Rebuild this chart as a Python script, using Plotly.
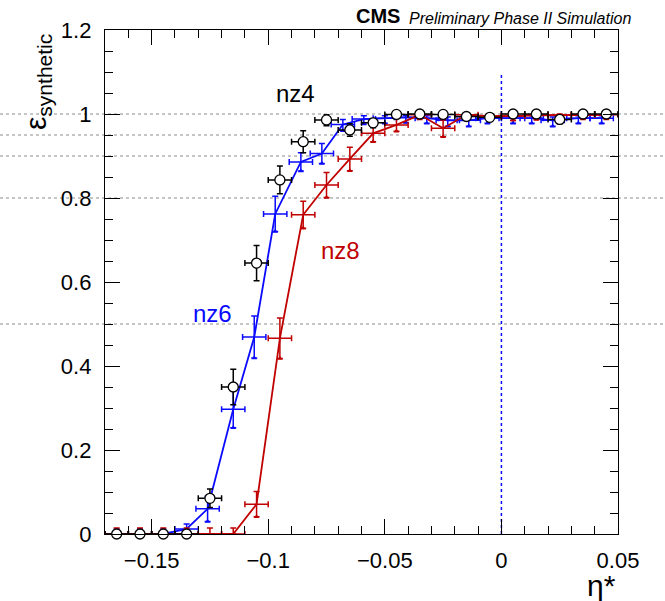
import plotly.graph_objects as go

# ---------------- data ----------------
eta_bins = [-0.165, -0.155, -0.145, -0.135, -0.125, -0.115, -0.105, -0.095, -0.085, -0.075, -0.065,
            -0.055, -0.045, -0.035, -0.025, -0.015, -0.005, 0.005, 0.015, 0.025, 0.035, 0.045]
bin_half_width = 0.005

nz4_eff = [0, 0, 0, 0, 0.085, 0.35, 0.645, 0.843, 0.934, 0.986, 0.962,
           0.979, 0.999, 1.0, 0.999, 0.994, 0.992, 1.0, 1.0, 0.987, 1.0, 1.0]
nz4_err_up = [0, 0, 0, 0, 0.022, 0.042, 0.042, 0.033, 0.026, 0.012, 0.015,
              0.01, 0.001, 0, 0.001, 0.004, 0.005, 0, 0, 0.006, 0, 0]
nz4_err_dn = [0, 0, 0, 0, 0.022, 0.042, 0.042, 0.033, 0.026, 0.014, 0.015,
              0.012, 0.005, 0.004, 0.005, 0.008, 0.01, 0.004, 0.004, 0.01, 0.004, 0.004]

nz6_eta = [-0.165, -0.155, -0.145, -0.135, -0.126, -0.115, -0.106, -0.097, -0.086, -0.077, -0.068,
           -0.059, -0.050, -0.041, -0.032, -0.023, -0.014, -0.006, 0.005, 0.013, 0.022, 0.033, 0.043]
nz6_eff = [0, 0, 0, 0.012, 0.06, 0.297, 0.469, 0.762, 0.886, 0.906, 0.975,
           0.988, 0.99, 0.992, 0.99, 0.985, 0.985, 0.99, 0.99, 0.99, 0.985, 0.99, 0.99]
nz6_err_up = [0.012, 0.012, 0.012, 0.012, 0.03, 0.044, 0.05, 0.042, 0.022, 0.024, 0.012,
              0.008, 0.006, 0.005, 0.006, 0.008, 0.008, 0.006, 0.006, 0.006, 0.008, 0.006, 0.006]
nz6_err_dn = [0, 0, 0, 0.008, 0.03, 0.044, 0.05, 0.042, 0.022, 0.024, 0.015,
              0.012, 0.012, 0.012, 0.012, 0.014, 0.014, 0.012, 0.012, 0.012, 0.014, 0.012, 0.012]

nz8_eff = [0, 0, 0, 0, 0, 0, 0.071, 0.466, 0.76, 0.831, 0.893,
           0.954, 0.974, 0.998, 0.966, 0.998, 0.995, 0.995, 0.997, 0.997, 0.998, 0.998]
nz8_err_up = [0.014, 0.014, 0.014, 0.014, 0.014, 0.014, 0.03, 0.048, 0.032, 0.03, 0.028,
              0.02, 0.015, 0.002, 0.02, 0.002, 0.004, 0.004, 0.003, 0.003, 0.002, 0.002]
nz8_err_dn = [0, 0, 0, 0, 0, 0, 0.03, 0.048, 0.032, 0.03, 0.028,
              0.02, 0.015, 0.01, 0.02, 0.01, 0.01, 0.01, 0.01, 0.01, 0.01, 0.01]

ref_lines = [1.0, 0.95, 0.9, 0.8, 0.5]
x_range = [-0.17, 0.05]
y_range = [0, 1.2]
x_tickvals = [-0.15, -0.1, -0.05, 0, 0.05]
x_ticktext = ["\u22120.15", "\u22120.1", "\u22120.05", "0", "0.05"]
y_tickvals = [0, 0.2, 0.4, 0.6, 0.8, 1.0, 1.2]
y_ticktext = ["0", "0.2", "0.4", "0.6", "0.8", "1", "1.2"]
eta_line = 0.0
eta_line_top = 1.1

BLUE = "#0a0aff"
RED = "#c00000"
FONT = "Liberation Sans"

W, H = 665, 601
ML, MR, MT, MB = 105, 47, 30, 67
PW, PH = W - ML - MR, H - MT - MB


def px_x(p):
    return (p - ML) / PW


def px_y(p):
    return (H - MB - p) / PH


def lower_ends(xs, ys, dn):
    # positions of the lower error-bar ends (drawn by ROOT as small triangles)
    pts = [(x, y - d) for x, y, d in zip(xs, ys, dn) if d > 0]
    return [p[0] for p in pts], [p[1] for p in pts]


fig = go.Figure()

# nz6 (blue)
fig.add_trace(go.Scatter(
    x=nz6_eta, y=nz6_eff, mode="lines", name="nz6",
    line=dict(color=BLUE, width=1.8),
    error_y=dict(type="data", symmetric=False, array=nz6_err_up, arrayminus=nz6_err_dn,
                 color=BLUE, thickness=1.5, width=3),
    error_x=dict(type="constant", value=bin_half_width, color=BLUE, thickness=1.5, width=3),
))
bx, by = lower_ends(nz6_eta, nz6_eff, nz6_err_dn)
fig.add_trace(go.Scatter(x=bx, y=by, mode="markers", hoverinfo="skip",
                         marker=dict(symbol="triangle-up", size=5, color=BLUE)))

# nz8 (red)
fig.add_trace(go.Scatter(
    x=eta_bins, y=nz8_eff, mode="lines", name="nz8",
    line=dict(color=RED, width=1.8),
    error_y=dict(type="data", symmetric=False, array=nz8_err_up, arrayminus=nz8_err_dn,
                 color=RED, thickness=1.5, width=3),
    error_x=dict(type="constant", value=bin_half_width, color=RED, thickness=1.5, width=3),
))
rx, ry = lower_ends(eta_bins, nz8_eff, nz8_err_dn)
fig.add_trace(go.Scatter(x=rx, y=ry, mode="markers", hoverinfo="skip",
                         marker=dict(symbol="triangle-up", size=5, color=RED)))

# nz4 (black open circles)
fig.add_trace(go.Scatter(
    x=eta_bins, y=nz4_eff, mode="markers", name="nz4",
    marker=dict(symbol="circle", size=10, color="white", line=dict(color="black", width=1.3)),
    error_y=dict(type="data", symmetric=False, array=nz4_err_up, arrayminus=nz4_err_dn,
                 color="black", thickness=1.5, width=3),
    error_x=dict(type="constant", value=bin_half_width, color="black", thickness=1.5, width=3),
    cliponaxis=False,
))

shapes = []
for v in ref_lines:
    shapes.append(dict(type="line", xref="paper", yref="paper",
                       x0=px_x(0), x1=px_x(W), y0=v / y_range[1], y1=v / y_range[1],
                       line=dict(color="#8c8c8c", width=1, dash="3px,3px"), layer="below"))
shapes.append(dict(type="line", xref="x", yref="y", x0=eta_line, x1=eta_line, y0=0, y1=eta_line_top,
                   line=dict(color=BLUE, width=1.5, dash="3px,3px"), layer="below"))

annotations = [
    dict(text="nz4", x=-0.0882, y=1.048, xref="x", yref="y", showarrow=False,
         font=dict(family=FONT, size=24, color="black")),
    dict(text="nz6", x=-0.1238, y=0.526, xref="x", yref="y", showarrow=False,
         font=dict(family=FONT, size=24, color=BLUE)),
    dict(text="nz8", x=-0.069, y=0.676, xref="x", yref="y", showarrow=False,
         font=dict(family=FONT, size=24, color=RED)),
    dict(text="<b>CMS</b>", x=px_x(402), y=px_y(16), xref="paper", yref="paper",
         xanchor="right", yanchor="middle", showarrow=False,
         font=dict(family=FONT, size=20, color="black")),
    dict(text="<i>Preliminary Phase II Simulation</i>", x=px_x(407), y=px_y(18), xref="paper", yref="paper",
         xanchor="left", yanchor="middle", showarrow=False,
         font=dict(family=FONT, size=16, color="black")),
    dict(text="\u03b5<sub>synthetic</sub>", x=px_x(38), y=px_y(82), xref="paper", yref="paper",
         xanchor="center", yanchor="middle", textangle=-90, showarrow=False,
         font=dict(family=FONT, size=30, color="black")),
    dict(text="\u03b7*", x=1.0, y=px_y(585), xref="paper", yref="paper",
         xanchor="right", yanchor="middle", showarrow=False,
         font=dict(family=FONT, size=30, color="black")),
]

axis_common = dict(showgrid=False, zeroline=False, showline=True, linecolor="black", linewidth=1.3,
                   mirror="allticks", ticks="inside", ticklen=15, tickwidth=1.2, tickcolor="black",
                   tickfont=dict(family=FONT, size=22, color="black"))

fig.update_layout(
    width=W, height=H,
    margin=dict(l=ML, r=MR, t=MT, b=MB, pad=0),
    paper_bgcolor="white", plot_bgcolor="rgba(0,0,0,0)",
    showlegend=False,
    shapes=shapes, annotations=annotations,
    xaxis=dict(range=x_range, tickvals=x_tickvals, ticktext=x_ticktext, ticklabelstandoff=6,
               minor=dict(dtick=0.01, tick0=0, ticks="inside", ticklen=8, tickwidth=1.2, tickcolor="black"),
               **axis_common),
    yaxis=dict(range=y_range, tickvals=y_tickvals, ticktext=y_ticktext, ticklabelstandoff=8,
               minor=dict(dtick=0.05, tick0=0, ticks="inside", ticklen=8, tickwidth=1.2, tickcolor="black"),
               **axis_common),
)

fig.write_html("out.html")
